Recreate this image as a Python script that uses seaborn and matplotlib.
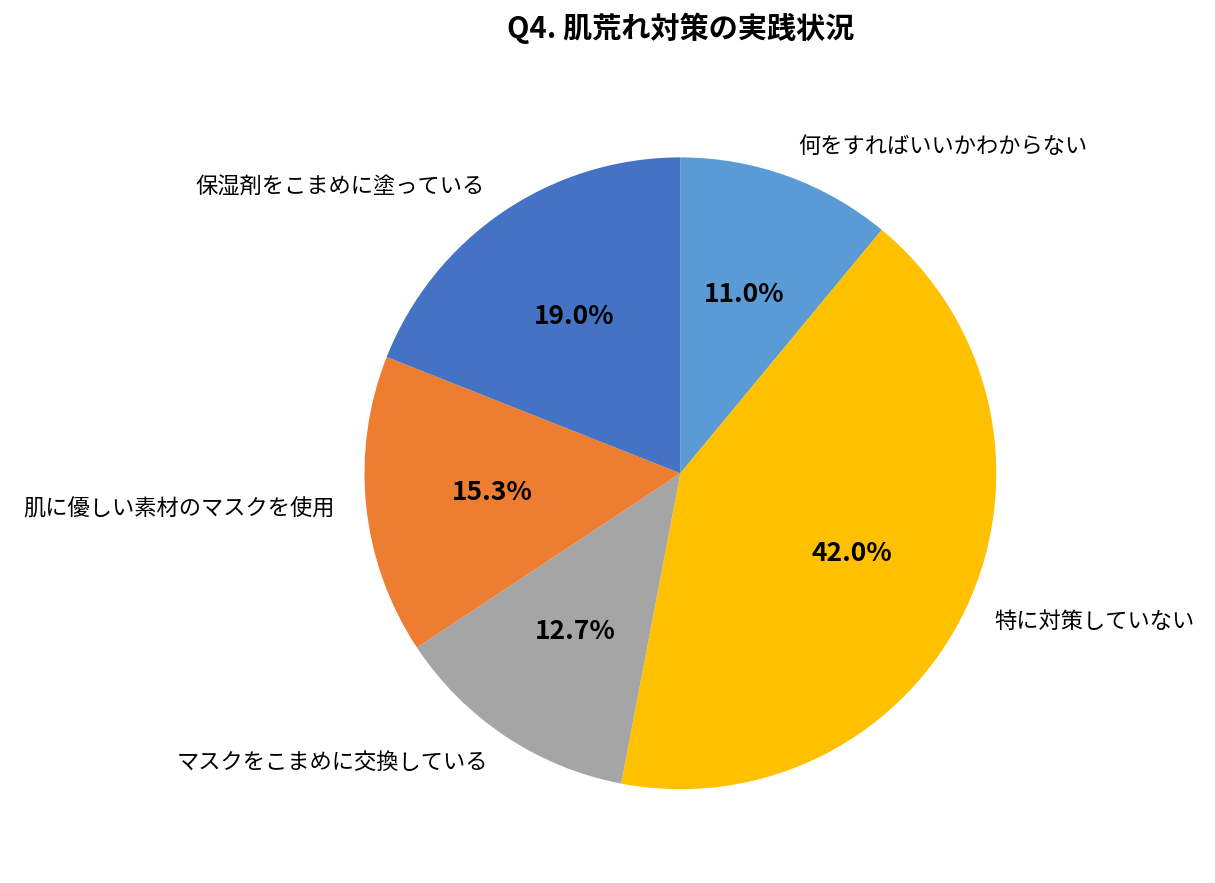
import matplotlib
matplotlib.use("Agg")
import matplotlib.pyplot as plt
import seaborn as sns

# data (clockwise from 12 o'clock)
labels = [
    "何をすればいいかわからない",
    "特に対策していない",
    "マスクをこまめに交換している",
    "肌に優しい素材のマスクを使用",
    "保湿剤をこまめに塗っている",
]
shares = [11.0, 42.0, 12.7, 15.3, 19.0]
colors = ["#5B9BD5", "#FFC000", "#A5A5A5", "#ED7D31", "#4472C4"]

sns.set_theme(style="white")
plt.rcParams['font.family'] = ['Noto Sans CJK JP', 'DejaVu Sans']
plt.rcParams['text.color'] = 'black'

fig = plt.figure(figsize=(12.15, 8.83), dpi=100)
# pie centre ~ (680, 473) px, radius ~ 316 px
ax = fig.add_axes([0.30, 0.106, 0.52, 0.716])

wedges, texts, autotexts = ax.pie(
    shares,
    labels=labels,
    colors=sns.color_palette(colors),
    startangle=90,
    counterclock=False,
    autopct="%.1f%%",
    pctdistance=0.6,
    labeldistance=1.1,
    wedgeprops=dict(linewidth=0),
    textprops=dict(fontsize=16, color="black"),
)
for t in autotexts:
    t.set_fontsize(19)
    t.set_fontweight("bold")
ax.set_xlim(-1, 1)
ax.set_ylim(-1, 1)
ax.set_aspect("equal")

fig.suptitle("Q4. 肌荒れ対策の実践状況", x=0.56, y=0.968, va="center",
             fontsize=21, fontweight="bold", color="black")

fig.savefig("out.png", dpi=100, facecolor="white")
